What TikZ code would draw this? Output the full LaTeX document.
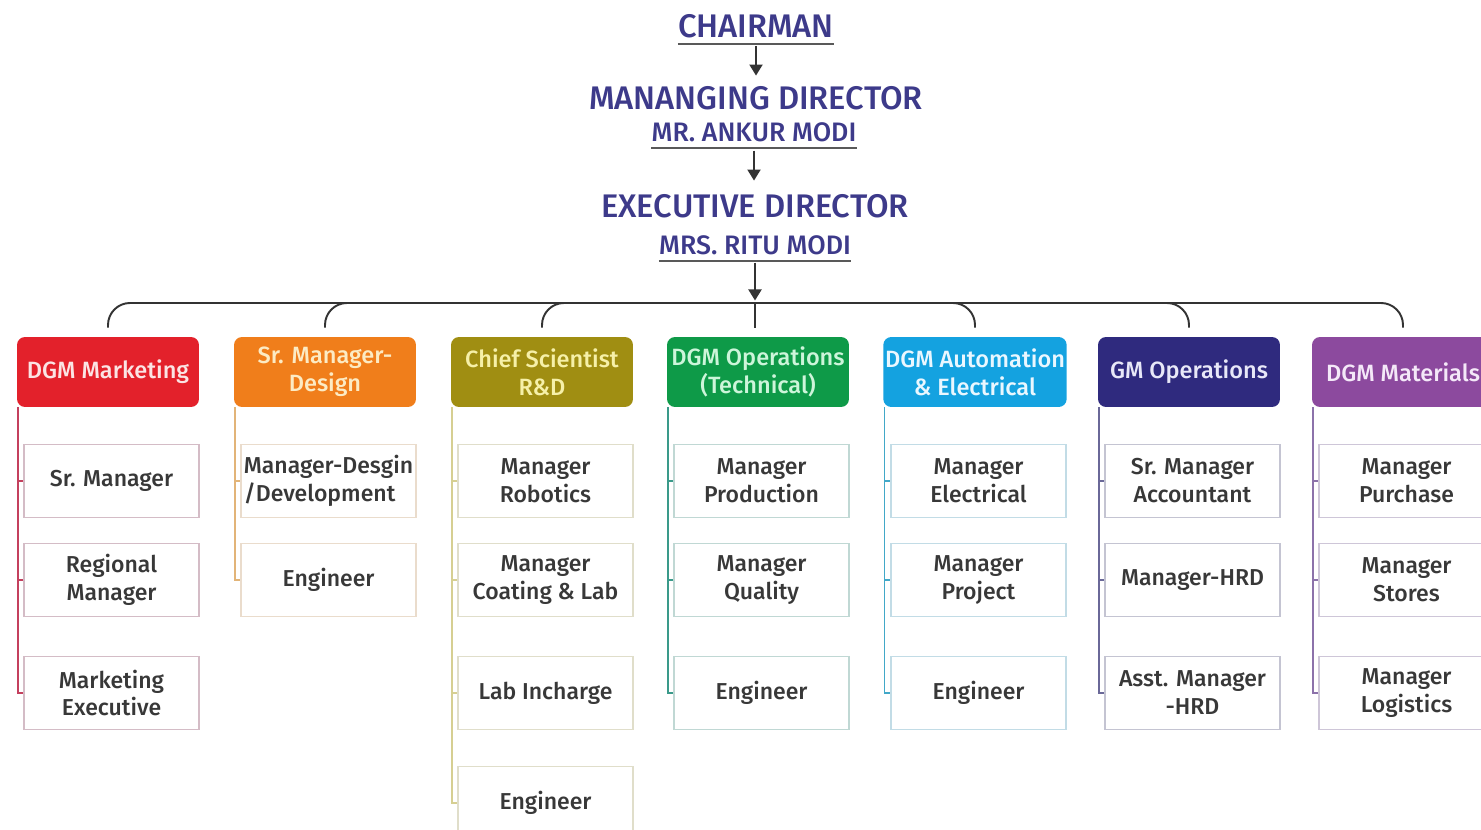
\documentclass[tikz,border=0pt]{standalone}
\usepackage{fontspec}
\setmainfont{Liberation Sans}
\newfontfamily\medfont{Fira Sans}[UprightFont=* Medium]
\usetikzlibrary{arrows.meta}

\definecolor{titleblue}{HTML}{3D3A8A}
% header fills
\definecolor{c1}{HTML}{E3212B}
\definecolor{c2}{HTML}{F07E1B}
\definecolor{c3}{HTML}{A08E12}
\definecolor{c4}{HTML}{0E9A48}
\definecolor{c5}{HTML}{14A2E0}
\definecolor{c6}{HTML}{2F2A7E}
\definecolor{c7}{HTML}{8C4A9E}
% header texts
\definecolor{t1}{HTML}{FBE4E4}
\definecolor{t2}{HTML}{FCEBC4}
\definecolor{t3}{HTML}{F6F0A8}
\definecolor{t4}{HTML}{CDF5DA}
\definecolor{t5}{HTML}{EAF7FF}
\definecolor{t6}{HTML}{E8E8F8}
\definecolor{t7}{HTML}{F4E8F8}
% side lines
\definecolor{l1}{HTML}{C4405E}
\definecolor{l2}{HTML}{E2B478}
\definecolor{l3}{HTML}{D6CF92}
\definecolor{l4}{HTML}{3A9A8A}
\definecolor{l5}{HTML}{42A8C8}
\definecolor{l6}{HTML}{6A6898}
\definecolor{l7}{HTML}{8C72AA}
% box borders
\definecolor{b1}{HTML}{D4BCC6}
\definecolor{b2}{HTML}{EADCCC}
\definecolor{b3}{HTML}{E0DECA}
\definecolor{b4}{HTML}{C0D8D4}
\definecolor{b5}{HTML}{C2DCE6}
\definecolor{b6}{HTML}{C4C4D2}
\definecolor{b7}{HTML}{CEC6D8}

\begin{document}
\begin{tikzpicture}[
    x=0.02cm, y=-0.02cm,
    toptitle/.style={text=titleblue, font=\medfont\fontsize{18.6}{22}\selectfont, inner sep=0pt, anchor=base},
    person/.style={text=titleblue, font=\medfont\fontsize{15.2}{18}\selectfont, inner sep=0pt, anchor=base},
    uline/.style={draw=black!65, line width=0.9pt},
    arr/.style={draw=black!80, line width=1.1pt, -{Triangle[width=0.26cm,length=0.22cm]}},
    bus/.style={draw=black!80, line width=1.1pt, rounded corners=0.44cm},
    head/.style={rounded corners=0.16cm, minimum width=3.64cm, minimum height=1.4cm,
        inner sep=1pt, align=center, font=\medfont\fontsize{13.4}{15.9}\selectfont},
    postbox/.style={line width=0.7pt, fill=white, minimum width=3.5cm, minimum height=1.46cm,
        inner sep=1pt, align=center, text=black!78, font=\medfont\fontsize{13.1}{15.9}\selectfont},
    deptline/.style={line width=1.1pt}
]

\useasboundingbox (0,0) rectangle (1481,830);

% =========================
% TOP OF THE CHART
% =========================
\node[toptitle] (chair) at (756,38) {CHAIRMAN};
\node[toptitle] (md) at (756,110) {MANANGING DIRECTOR};
\node[person] (mdname) at (754,142) {MR. ANKUR MODI};
\node[toptitle] (ed) at (755,218) {EXECUTIVE DIRECTOR};
\node[person] (edname) at (755,255) {MRS. RITU MODI};

\foreach \n in {chair,mdname,edname}
    \draw[uline] ([yshift=-0.12cm]\n.base west) -- ([yshift=-0.12cm]\n.base east);

\coordinate (bus) at (755,303);

\draw[arr, shorten <=0.14cm, shorten >=0.22cm] (chair.south) -- (chair.south |- md.north);
\draw[arr, shorten <=0.16cm, shorten >=0.28cm] (mdname.south) -- (mdname.south |- ed.north);
\draw[arr, shorten <=0.14cm, shorten >=0.05cm] (edname.south) -- (bus);

% =========================
% DEPARTMENT HEADS
% =========================
\foreach \i/\cx/\lbl in {1/108/{DGM Marketing}, 2/325/{Sr. Manager-\\Design},
        3/542/{Chief Scientist\\R\&D}, 4/758/{DGM Operations\\(Technical)},
        5/975/{DGM Automation\\\& Electrical}, 6/1189/{GM Operations},
        7/1403/{DGM Materials}}
    \node[head, fill=c\i, text=t\i] (h\i) at (\cx,372) {\lbl};

\foreach \i in {1,2,3,5,6,7}
    \draw[bus, shorten >=0.18cm] (bus) -| (h\i.north);
\draw[bus, shorten >=0.18cm] (bus) -- (bus |- h4.north);

% =========================
% STAFF UNDER EACH HEAD
% =========================
% marketing
\foreach \j/\y/\txt in {1/481/{Sr. Manager}, 2/580/{Regional\\Manager}, 3/693/{Marketing\\Executive}}{
    \node[postbox, draw=b1] (p1\j) at (111.5,\y) {\txt};
    \draw[deptline, draw=l1] ([xshift=0.03cm]h1.south west) |- (p1\j.west);
}

% design
\node[postbox, draw=b2, align=left] (p21) at (328.5,481) {Manager-Desgin\\/Development};
\node[postbox, draw=b2] (p22) at (328.5,580) {Engineer};
\foreach \j in {1,2}
    \draw[deptline, draw=l2] ([xshift=0.03cm]h2.south west) |- (p2\j.west);

% r&d
\foreach \j/\y/\txt in {1/481/{Manager\\Robotics}, 2/580/{Manager\\Coating \& Lab},
        3/693/{Lab Incharge}, 4/803/{Engineer}}{
    \node[postbox, draw=b3] (p3\j) at (545.5,\y) {\txt};
    \draw[deptline, draw=l3] ([xshift=0.03cm]h3.south west) |- (p3\j.west);
}

% operations (technical)
\foreach \j/\y/\txt in {1/481/{Manager\\Production}, 2/580/{Manager\\Quality}, 3/693/{Engineer}}{
    \node[postbox, draw=b4] (p4\j) at (761.5,\y) {\txt};
    \draw[deptline, draw=l4] ([xshift=0.03cm]h4.south west) |- (p4\j.west);
}

% automation
\foreach \j/\y/\txt in {1/481/{Manager\\Electrical}, 2/580/{Manager\\Project}, 3/693/{Engineer}}{
    \node[postbox, draw=b5] (p5\j) at (978.5,\y) {\txt};
    \draw[deptline, draw=l5] ([xshift=0.03cm]h5.south west) |- (p5\j.west);
}

% gm operations
\foreach \j/\y/\txt in {1/481/{Sr. Manager\\Accountant}, 2/580/{Manager-HRD}, 3/693/{Asst. Manager\\-HRD}}{
    \node[postbox, draw=b6] (p6\j) at (1192.5,\y) {\txt};
    \draw[deptline, draw=l6] ([xshift=0.03cm]h6.south west) |- (p6\j.west);
}

% materials
\foreach \j/\y/\txt in {1/481/{Manager\\Purchase}, 2/580/{Manager\\Stores}, 3/693/{Manager\\Logistics}}{
    \node[postbox, draw=b7] (p7\j) at (1406.5,\y) {\txt};
    \draw[deptline, draw=l7] ([xshift=0.03cm]h7.south west) |- (p7\j.west);
}
\end{tikzpicture}
\end{document}
